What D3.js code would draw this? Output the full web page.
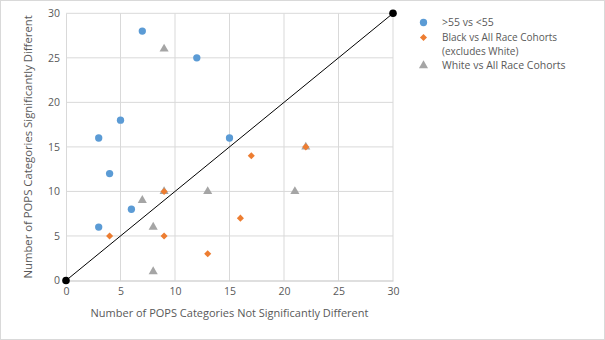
<!DOCTYPE html>
<html><head><meta charset="utf-8">
<script src="https://cdn.jsdelivr.net/npm/d3@7"></script>
<style>body{margin:0;background:#fff}text{font-family:"Open Sans","Liberation Sans",sans-serif;fill:#595959}</style>
</head><body>
<svg id="c" width="605" height="340"></svg>
<script>
const ageX = [3,3,4,5,6,7,12,15];
const ageY = [6,16,12,18,8,28,25,16];
const blackX = [4,9,9,13,16,17,22];
const blackY = [5,5,10,3,7,14,15];
const whiteX = [7,8,8,9,9,13,21,22];
const whiteY = [9,1,6,10,26,10,10,15];
const refX = [0,30];
const refY = [0,30];
const ticks = [0,5,10,15,20,25,30];
const seriesNames = [">55 vs <55","Black vs All Race Cohorts","(excludes White)","White vs All Race Cohorts"];
const xTitle = "Number of POPS Categories Not Significantly Different";
const yTitle = "Number of POPS Categories Significantly Different";

const svg = d3.select("#c");
svg.append("rect").attr("x",0.5).attr("y",0.5).attr("width",604).attr("height",339).attr("fill","#fff").attr("stroke","#D9D9D9");
const x = d3.scaleLinear().domain([0,30]).range([66,393]);
const y = d3.scaleLinear().domain([0,30]).range([280.5,13.3]);

// grid
svg.append("g").selectAll("line.v").data(ticks.slice(1)).join("line")
  .attr("x1",d=>x(d)).attr("x2",d=>x(d)).attr("y1",y(0)).attr("y2",y(30)).attr("stroke","#D9D9D9");
svg.append("g").selectAll("line.h").data(ticks.slice(1)).join("line")
  .attr("y1",d=>y(d)).attr("y2",d=>y(d)).attr("x1",x(0)).attr("x2",x(30)).attr("stroke","#D9D9D9");
// axes
const xa = svg.append("g").attr("transform",`translate(0,${y(0)})`).call(d3.axisBottom(x).tickValues(ticks).tickSize(0).tickPadding(7));
const ya = svg.append("g").attr("transform",`translate(${x(0)},0)`).call(d3.axisLeft(y).tickValues(ticks).tickSize(0).tickPadding(6));
[xa,ya].forEach(a=>{a.select(".domain").attr("stroke","#BFBFBF");a.selectAll("text").style("font-family","'Open Sans',sans-serif").attr("font-size",10.5).attr("fill","#595959");});
ya.select(".domain").attr("stroke","#D9D9D9");

svg.append("text").attr("x",(x(0)+x(30))/2).attr("y",317).attr("text-anchor","middle").attr("font-size",11).text(xTitle);
svg.append("text").attr("transform",`translate(32,${(y(0)+y(30))/2}) rotate(-90)`).attr("text-anchor","middle").attr("font-size",11.3).text(yTitle);

// reference line
svg.append("line").attr("x1",x(refX[0])).attr("y1",y(refY[0])).attr("x2",x(refX[1])).attr("y2",y(refY[1])).attr("stroke","#000").attr("stroke-width",1);
svg.append("g").selectAll("circle").data(refX.map((d,i)=>[d,refY[i]])).join("circle")
  .attr("cx",d=>x(d[0])).attr("cy",d=>y(d[1])).attr("r",3.8).attr("fill","#000");

const sym = (type,size)=>d3.symbol().type(type).size(size)();
function series(xs,ys,type,size,color,rot){
  svg.append("g").selectAll("path").data(xs.map((d,i)=>[d,ys[i]])).join("path")
    .attr("transform",d=>`translate(${x(d[0])},${y(d[1])}) rotate(${rot||0})`).attr("d",sym(type,size)).attr("fill",color);
}
series(ageX,ageY,d3.symbolCircle,42,"#5B9BD5");
series(whiteX,whiteY,d3.symbolTriangle,36,"#A5A5A5");
series(blackX,blackY,d3.symbolSquare,25,"#ED7D31",45);

// legend
const lg = svg.append("g");
lg.append("path").attr("transform","translate(423.5,22.5)").attr("d",sym(d3.symbolCircle,42)).attr("fill","#5B9BD5");
lg.append("path").attr("transform","translate(423.5,37.5) rotate(45)").attr("d",sym(d3.symbolSquare,25)).attr("fill","#ED7D31");
lg.append("path").attr("transform","translate(423.5,65.5)").attr("d",sym(d3.symbolTriangle,36)).attr("fill","#A5A5A5");
lg.append("text").attr("x",442).attr("y",26).attr("font-size",10.5).text(seriesNames[0]);
lg.append("text").attr("x",442).attr("y",40.5).attr("font-size",10).text(seriesNames[1]);
lg.append("text").attr("x",442).attr("y",54.5).attr("font-size",10).text(seriesNames[2]);
lg.append("text").attr("x",442).attr("y",69).attr("font-size",10.5).text(seriesNames[3]);
</script></body></html>
